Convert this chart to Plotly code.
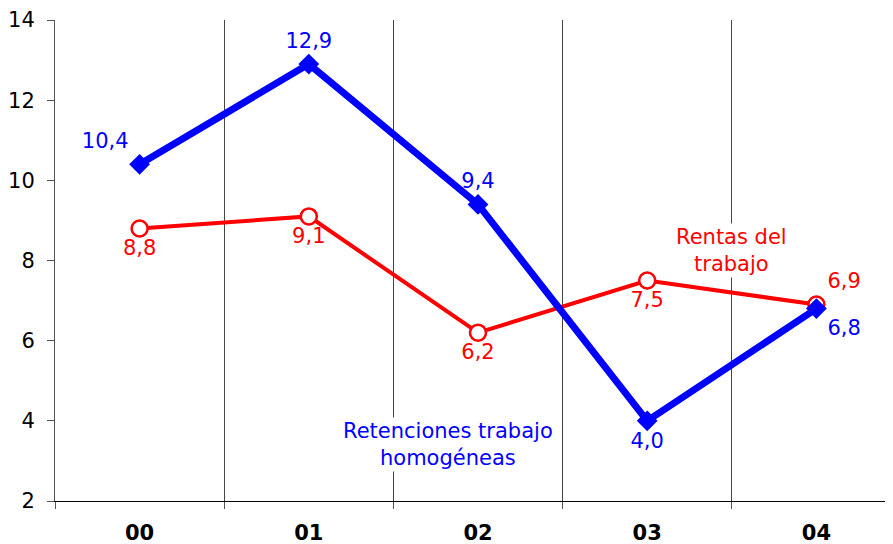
import plotly.graph_objects as go

categories = ["00", "01", "02", "03", "04"]
retenciones = [10.4, 12.9, 9.4, 4.0, 6.8]
rentas = [8.8, 9.1, 6.2, 7.5, 6.9]
ret_pos = ["top left", "top center", "top center", "bottom center", "bottom right"]
ren_pos = ["bottom center", "bottom center", "bottom center", "bottom center", "top right"]

def fmt(v):
    return f"{v:.1f}".replace(".", ",")

x = list(range(len(categories)))
font = "DejaVu Sans, Verdana, sans-serif"
fs = 21

fig = go.Figure()
fig.add_trace(go.Scatter(
    x=x, y=rentas, mode="lines+markers+text",
    line=dict(color="#FF0000", width=4),
    marker=dict(symbol="circle", size=16, color="white", line=dict(color="#FF0000", width=2.5)),
    text=[fmt(v) for v in rentas], textposition=ren_pos,
    textfont=dict(color="#FF0000", size=fs, family=font),
    cliponaxis=False, showlegend=False))
fig.add_trace(go.Scatter(
    x=x, y=retenciones, mode="lines+markers+text",
    line=dict(color="#0000FF", width=7),
    marker=dict(symbol="diamond", size=16, color="#0000FF"),
    text=[fmt(v) for v in retenciones], textposition=ret_pos,
    textfont=dict(color="#0000FF", size=fs, family=font),
    cliponaxis=False, showlegend=False))

fig.add_annotation(x=3.5, y=8.25, text="Rentas del<br>trabajo", showarrow=False,
                   font=dict(color="#FF0000", size=fs, family=font), bgcolor="white")
fig.add_annotation(x=1.82, y=3.4, text="Retenciones trabajo<br>homogéneas", showarrow=False,
                   font=dict(color="#0000FF", size=fs, family=font), bgcolor="white")

fig.update_layout(
    width=893, height=544,
    margin=dict(l=47, r=0, t=12, b=51),
    plot_bgcolor="white", paper_bgcolor="white",
    font=dict(family=font, size=fs, color="black"),
    xaxis=dict(range=[-0.5, 4.5], tickvals=x, ticktext=[f"<b>{c}</b>" for c in categories],
               showgrid=False, zeroline=False, showline=True, linecolor="black", linewidth=1,
               ticks="", tickfont=dict(size=fs), automargin=False, ticklabelstandoff=13,
               minor=dict(tickvals=[-0.5, 0.5, 1.5, 2.5, 3.5, 4.5], ticks="outside", ticklen=7,
                          tickcolor="#555555", showgrid=True, gridcolor="#444444", gridwidth=1)),
    yaxis=dict(range=[2, 14], dtick=2, showgrid=False, zeroline=False, showline=True,
               linecolor="#555555", linewidth=1, ticks="outside", ticklen=7, tickcolor="#555555",
               tickfont=dict(size=fs), automargin=False, ticklabelstandoff=8),
)
fig.write_html("out.html")
